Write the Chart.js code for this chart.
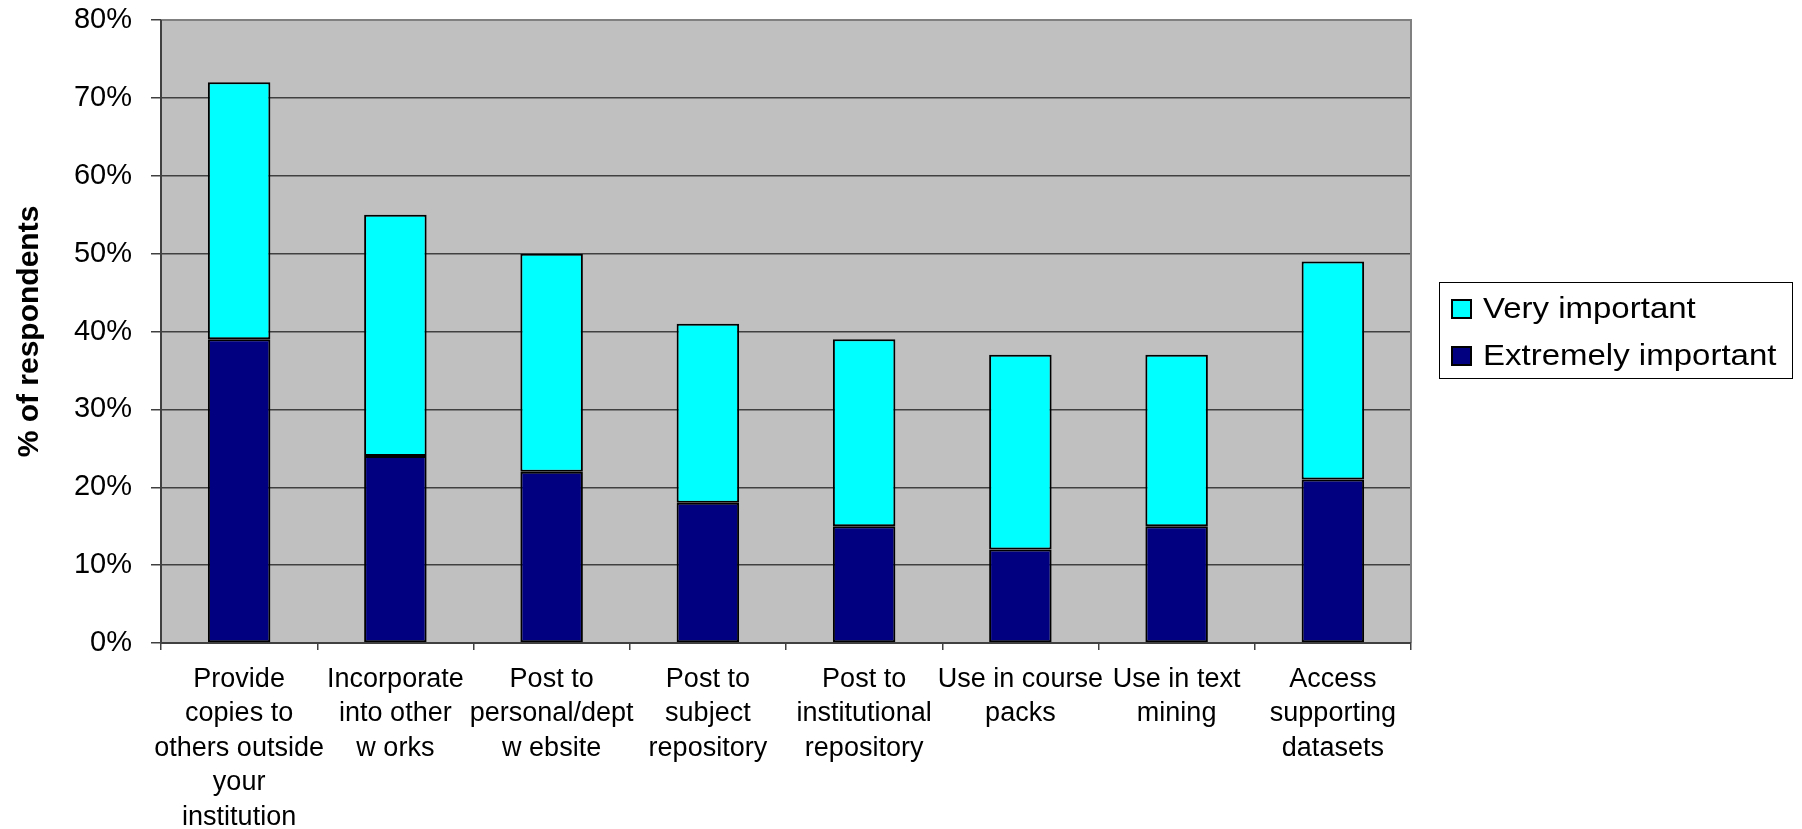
<!DOCTYPE html>
<html>
<head>
<meta charset="utf-8">
<script src="https://cdn.jsdelivr.net/npm/chart.js@4.4.1/dist/chart.umd.min.js"></script>
<style>
html,body{margin:0;padding:0;background:#fff;}
canvas{display:block;}
</style>
</head>
<body>
<canvas id="c" width="1802" height="829"></canvas>
<script>
const categories = [
  ["Provide","copies to","others outside","your","institution"],
  ["Incorporate","into other","w orks"],
  ["Post to","personal/dept","w ebsite"],
  ["Post to","subject","repository"],
  ["Post to","institutional","repository"],
  ["Use in course","packs"],
  ["Use in text","mining"],
  ["Access","supporting","datasets"]
];
const extremelyImportant = [39, 24, 22, 18, 15, 12, 15, 21];
const veryImportant      = [33, 31, 28, 23, 24, 25, 22, 28];
const seriesNames = ["Extremely important", "Very important"];
const yTickMax = 80;
const yTickStep = 10;

const FONT = "'Liberation Sans', Arial, sans-serif";

const plotBg = {
  id: 'plotBg',
  beforeDraw(chart) {
    const {ctx, chartArea: a} = chart;
    ctx.save();
    ctx.fillStyle = '#C0C0C0';
    ctx.fillRect(a.left, a.top, a.right - a.left, a.bottom - a.top);
    ctx.restore();
  },
  afterDraw(chart) {
    const {ctx, chartArea: a} = chart;
    ctx.save();
    ctx.strokeStyle = '#808080';
    ctx.lineWidth = 2;
    ctx.beginPath();
    ctx.moveTo(a.left, a.top); ctx.lineTo(a.right, a.top); ctx.lineTo(a.right, a.bottom);
    ctx.stroke();
    ctx.strokeStyle = '#404040';
    ctx.beginPath();
    ctx.moveTo(a.left, a.top); ctx.lineTo(a.left, a.bottom); ctx.lineTo(a.right, a.bottom);
    ctx.stroke();
    ctx.restore();
  }
};

const customLegend = {
  id: 'customLegend',
  afterDraw(chart) {
    const {ctx} = chart;
    const ds = chart.data.datasets.slice().reverse();
    const bx = 1439, by = 282, bw = 353, bh = 96;
    ctx.save();
    ctx.fillStyle = '#fff';
    ctx.fillRect(bx, by, bw, bh);
    ctx.strokeStyle = '#000';
    ctx.lineWidth = 1;
    ctx.strokeRect(bx + 0.5, by + 0.5, bw, bh);
    ctx.font = '30px ' + FONT;
    ctx.textBaseline = 'middle';
    ds.forEach((d, i) => {
      const cy = 309 + i * 47;
      ctx.fillStyle = d.backgroundColor;
      ctx.fillRect(1452, cy - 9, 19, 18);
      ctx.strokeStyle = '#000';
      ctx.lineWidth = 2;
      ctx.strokeRect(1452, cy - 9, 19, 18);
      ctx.fillStyle = '#000';
      ctx.save();
      ctx.translate(1483, cy + 1);
      ctx.scale(1.1, 1);
      ctx.fillText(d.label, 0, 0);
      ctx.restore();
    });
    ctx.restore();
  }
};

new Chart(document.getElementById('c'), {
  type: 'bar',
  data: {
    labels: categories,
    datasets: [
      { label: seriesNames[0], data: extremelyImportant, backgroundColor: '#000080', borderColor: '#000000', borderWidth: 2, borderSkipped: false },
      { label: seriesNames[1], data: veryImportant, backgroundColor: '#00FFFF', borderColor: '#000000', borderWidth: 2, borderSkipped: false }
    ]
  },
  options: {
    responsive: false,
    animation: false,
    devicePixelRatio: 1,
    layout: { padding: { top: 20, right: 391, bottom: 0, left: 0 } },
    plugins: { legend: { display: false }, tooltip: { enabled: false } },
    datasets: { bar: { barPercentage: 0.4, categoryPercentage: 1.0 } },
    scales: {
      x: {
        stacked: true,
        afterFit(s) { s.height = 186; s.paddingLeft = 0; s.paddingRight = 0; },
        grid: { display: true, offset: true, drawOnChartArea: false, drawTicks: true, tickLength: 7, tickColor: '#404040', lineWidth: 1.5 },
        border: { display: false },
        ticks: { color: '#000', font: { family: FONT, size: 27, lineHeight: 1.28 }, padding: 12, maxRotation: 0, autoSkip: false }
      },
      y: {
        stacked: true,
        min: 0, max: yTickMax,
        afterFit(s) { s.width = 161; s.paddingTop = 0; s.paddingBottom = 0; },
        grid: { color: '#404040', lineWidth: 1.5, drawTicks: true, tickLength: 10, tickColor: '#404040' },
        border: { display: false },
        ticks: { stepSize: yTickStep, color: '#000', padding: 19, font: { family: FONT, size: 29 }, callback: v => v + '%' },
        title: { display: true, text: '% of respondents', color: '#000', font: { family: FONT, size: 30, weight: 'bold' }, padding: { top: 12, bottom: 0 } }
      }
    }
  },
  plugins: [plotBg, customLegend]
});
</script>
</body>
</html>
